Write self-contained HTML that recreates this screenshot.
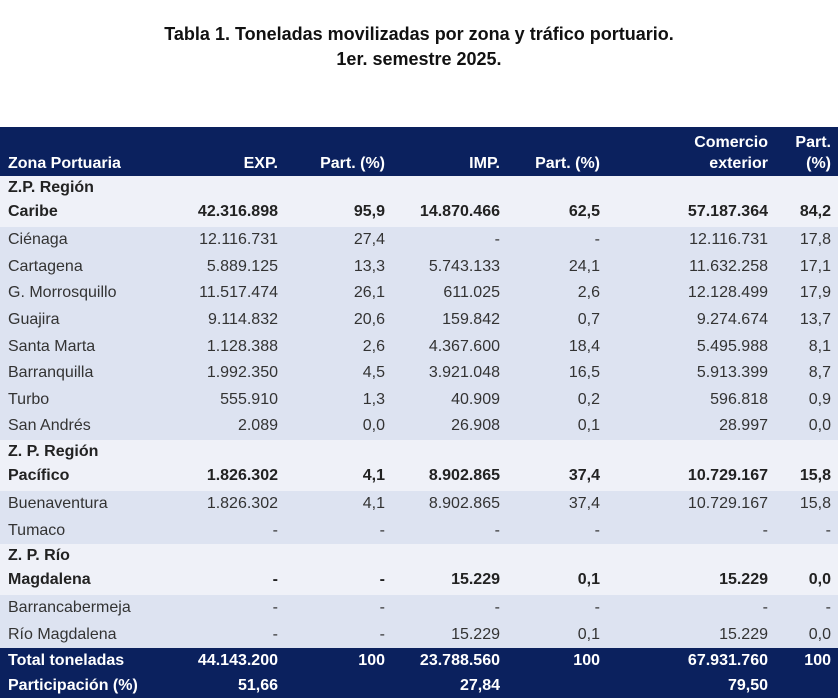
<!DOCTYPE html>
<html><head><meta charset="utf-8"><style>
body{margin:0;width:838px;height:698px;background:#fff;font-family:"Liberation Sans",sans-serif;overflow:hidden;position:relative}
.t{position:absolute;left:0;width:838px;text-align:center;font-weight:bold;font-size:18px;color:#111}
table{position:absolute;top:127px;left:0;width:838px;border-collapse:collapse;table-layout:fixed;font-size:16px;color:#222}
td{padding:0 7px 0 0;text-align:right;white-space:nowrap;overflow:visible}
td:first-child{text-align:left;padding-left:8px}
tr.h td{background:#0b215e;color:#fff;font-weight:bold;height:47px;vertical-align:bottom;padding-bottom:2px;line-height:21px}
tr.g td{background:#eff1f8;font-weight:bold;height:47px;vertical-align:bottom;padding-bottom:3px;line-height:24px}
tr.d td{background:#dde3f1;height:26.6px;color:#333}
tr.f td{background:#0b215e;color:#fff;font-weight:bold;height:25px}
</style></head><body>
<div class="t" style="top:24px">Tabla 1. Toneladas movilizadas por zona y tráfico portuario.</div>
<div class="t" style="top:49px">1er. semestre 2025.</div>
<table>
<colgroup><col style="width:180px"><col style="width:105px"><col style="width:107px"><col style="width:115px"><col style="width:100px"><col style="width:168px"><col style="width:63px"></colgroup>
<tr class="h"><td>Zona Portuaria</td><td>EXP.</td><td>Part. (%)</td><td>IMP.</td><td>Part. (%)</td><td>Comercio<br>exterior</td><td>Part.<br>(%)</td></tr>
<tr class="g"><td>Z.P. Región<br>Caribe</td><td>42.316.898</td><td>95,9</td><td>14.870.466</td><td>62,5</td><td>57.187.364</td><td>84,2</td></tr>
<tr class="d"><td>Ciénaga</td><td>12.116.731</td><td>27,4</td><td>-</td><td>-</td><td>12.116.731</td><td>17,8</td></tr>
<tr class="d"><td>Cartagena</td><td>5.889.125</td><td>13,3</td><td>5.743.133</td><td>24,1</td><td>11.632.258</td><td>17,1</td></tr>
<tr class="d"><td>G. Morrosquillo</td><td>11.517.474</td><td>26,1</td><td>611.025</td><td>2,6</td><td>12.128.499</td><td>17,9</td></tr>
<tr class="d"><td>Guajira</td><td>9.114.832</td><td>20,6</td><td>159.842</td><td>0,7</td><td>9.274.674</td><td>13,7</td></tr>
<tr class="d"><td>Santa Marta</td><td>1.128.388</td><td>2,6</td><td>4.367.600</td><td>18,4</td><td>5.495.988</td><td>8,1</td></tr>
<tr class="d"><td>Barranquilla</td><td>1.992.350</td><td>4,5</td><td>3.921.048</td><td>16,5</td><td>5.913.399</td><td>8,7</td></tr>
<tr class="d"><td>Turbo</td><td>555.910</td><td>1,3</td><td>40.909</td><td>0,2</td><td>596.818</td><td>0,9</td></tr>
<tr class="d"><td>San Andrés</td><td>2.089</td><td>0,0</td><td>26.908</td><td>0,1</td><td>28.997</td><td>0,0</td></tr>
<tr class="g"><td>Z. P. Región<br>Pacífico</td><td>1.826.302</td><td>4,1</td><td>8.902.865</td><td>37,4</td><td>10.729.167</td><td>15,8</td></tr>
<tr class="d"><td>Buenaventura</td><td>1.826.302</td><td>4,1</td><td>8.902.865</td><td>37,4</td><td>10.729.167</td><td>15,8</td></tr>
<tr class="d"><td>Tumaco</td><td>-</td><td>-</td><td>-</td><td>-</td><td>-</td><td>-</td></tr>
<tr class="g"><td>Z. P. Río<br>Magdalena</td><td>-</td><td>-</td><td>15.229</td><td>0,1</td><td>15.229</td><td>0,0</td></tr>
<tr class="d"><td>Barrancabermeja</td><td>-</td><td>-</td><td>-</td><td>-</td><td>-</td><td>-</td></tr>
<tr class="d"><td>Río Magdalena</td><td>-</td><td>-</td><td>15.229</td><td>0,1</td><td>15.229</td><td>0,0</td></tr>
<tr class="f"><td>Total toneladas</td><td>44.143.200</td><td>100</td><td>23.788.560</td><td>100</td><td>67.931.760</td><td>100</td></tr>
<tr class="f"><td>Participación (%)</td><td>51,66</td><td></td><td>27,84</td><td></td><td>79,50</td><td></td></tr>
</table>
</body></html>
